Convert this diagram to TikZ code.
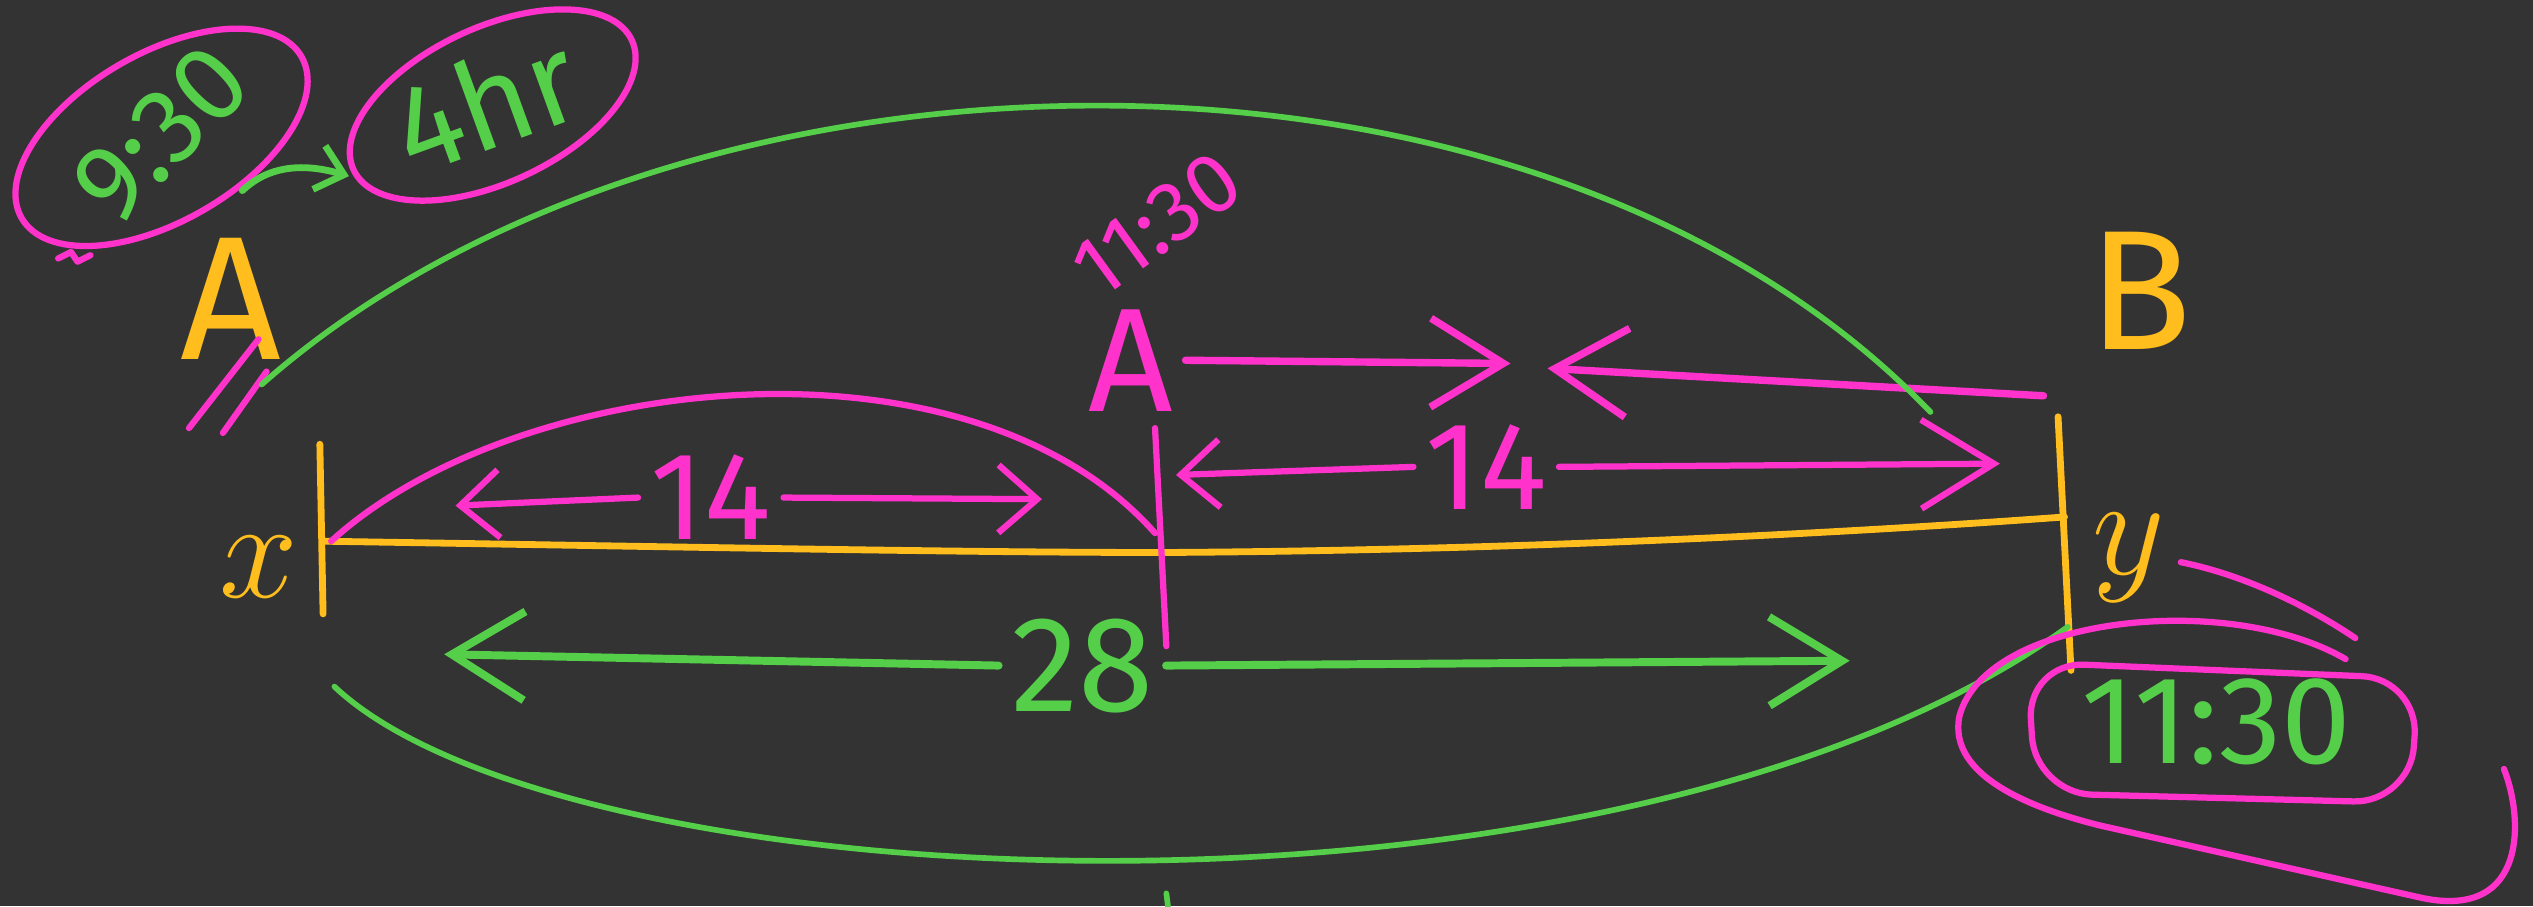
\documentclass[tikz,border=0pt]{standalone}
\usepackage{fontspec}
\setmainfont{Fira Sans}
\usetikzlibrary{arrows.meta}
\definecolor{board}{HTML}{333333}
\definecolor{pengreen}{HTML}{55CF4A}
\definecolor{penpink}{HTML}{FF33CC}
\definecolor{penyellow}{HTML}{FFBE1E}
\tikzset{
  road/.style={penyellow, line width=1.2pt},
  pinkline/.style={penpink, line width=1.1pt},
  greenline/.style={pengreen, line width=1pt},
  smallbarb/.style={-{Straight Barb[length=2.4mm,width=4.2mm]}},
  bigbarb/.style={-{Straight Barb[length=4.5mm,width=5.5mm]}},
  ylabel/.style={text=penyellow, inner sep=1pt},
  plabel/.style={text=penpink, inner sep=2pt},
  glabel/.style={text=pengreen, inner sep=2pt},
}
\begin{document}
\begin{tikzpicture}[x=0.1mm, y=0.1mm, line cap=round, line join=round]
  \fill[board] (0,0) rectangle (1568,561);
  \useasboundingbox (0,0) rectangle (1568,561);

  % the road from x to y
  \coordinate (x) at (200,226);
  \coordinate (m) at (720,219);
  \coordinate (y) at (1278,241);
  \draw[road] (x) .. controls (450,222) and (600,219) .. (m)
              .. controls (900,220) and (1100,228) .. (y);
  \draw[road] (x) ++(-2,60) -- ++(2,-105);
  \draw[road] (y) ++(-4,62) -- ++(8,-157);
  \node[ylabel, font=\fontsize{31}{33}\selectfont] (A1) at (143,376) {A};
  \node[ylabel, font=\fontsize{30}{32}\selectfont] (B) at (1325,381) {B};
  \node[ylabel, font=\fontsize{34}{36}\selectfont] (xl) at (160,210) {$x$};
  \node[ylabel, font=\fontsize{38}{40}\selectfont] (yl) at (1318,216) {$y$};

  % meeting point, first half
  \draw[pinkline] (m) ++(-5,77) -- ++(7,-135);
  \draw[pinkline] (x) ++(5,0) .. controls (320,331) and (600,361) .. (715,231);
  \coordinate (d1l) at (282,248);
  \coordinate (d1r) at (645,252);
  \node[plabel, font=\fontsize{22}{24}\selectfont] (n14a) at (440,253) {14};
  \draw[pinkline, smallbarb] (n14a.west) -- (d1l);
  \draw[pinkline, smallbarb] (n14a.east) -- (d1r);
  \coordinate (d2l) at (728,267);
  \coordinate (d2r) at (1238,274);
  \node[plabel, font=\fontsize{22}{24}\selectfont] (n14b) at (920,272) {14};
  \draw[pinkline, smallbarb] (n14b.west) -- (d2l);
  \draw[pinkline, bigbarb] (n14b.east) -- (d2r);

  % A leaves at 11:30, B comes the other way
  \node[plabel, font=\fontsize{26}{28}\selectfont] (A2) at (700,338) {A};
  \node[plabel, font=\fontsize{15}{17}\selectfont, rotate=36, inner sep=0pt] (t1130a) at (716,422) {11:30};
  \coordinate (meet1) at (935,336);
  \coordinate (yB) at (1265,316);
  \coordinate (meet2) at (958,333);
  \draw[pinkline, line width=1.3pt, bigbarb] (A2.east) -- (meet1);
  \draw[pinkline, line width=1.3pt, bigbarb] (yB) -- (meet2);
  \draw[pinkline] (117,296) -- (160,351);
  \draw[pinkline] (138,293) -- (165,331);

  % start times
  \node[glabel, font=\fontsize{19}{21}\selectfont, rotate=45, inner sep=0pt] (t930) at (100,478) {9:30};
  \draw[pinkline, rotate around={30:(100,476)}] (100,476) ellipse [x radius=100, y radius=52];
  \draw[pinkline] (36,401) -- (44,405) -- (48,399) -- (56,403);
  \node[glabel, font=\fontsize{22}{24}\selectfont, rotate=20, inner sep=0pt] (t4hr) at (300,498) {4hr};
  \draw[pinkline, rotate around={25:(305,496)}] (305,496) ellipse [x radius=95, y radius=48];
  \coordinate (c930) at (150,443);
  \coordinate (c4hr) at (216,452);
  \draw[greenline, line width=1.2pt, -{Straight Barb[length=1.6mm,width=2.8mm]}]
    (c930) .. controls (170,462) and (195,458) .. (c4hr);

  % whole trip
  \coordinate (g1) at (162,323);
  \coordinate (g2) at (1195,306);
  \draw[greenline] (g1) .. controls (420,551) and (950,561) .. (g2);
  \coordinate (g3) at (207,136);
  \coordinate (g4) at (1280,173);
  \draw[greenline] (g3) .. controls (350,1) and (1000,-29) .. (g4);
  \draw[greenline] (722,8) -- (723,0);
  \coordinate (d3l) at (275,156);
  \coordinate (d3r) at (1145,152);
  \node[glabel, font=\fontsize{24}{26}\selectfont] (n28) at (670,149) {28};
  \draw[greenline, line width=1.4pt, bigbarb] (n28.west) -- (d3l);
  \draw[greenline, line width=1.4pt, bigbarb] (n28.east) -- (d3r);

  % arrival at y
  \node[glabel, font=\fontsize{22}{24}\selectfont] (t1130b) at (1372,114) {11:30};
  \draw[pinkline, rounded corners=10] (1255,151) -- (1497,141) -- (1492,64) -- (1260,70) -- cycle;
  \draw[pinkline] (1452,153) .. controls (1380,195) and (1230,180) .. (1213,118)
    .. controls (1205,80) and (1260,60) .. (1300,50) -- (1500,5)
    .. controls (1565,-8) and (1562,55) .. (1550,85);
  \draw[pinkline] (1350,213) .. controls (1390,205) and (1430,185) .. (1458,166);
\end{tikzpicture}
\end{document}
